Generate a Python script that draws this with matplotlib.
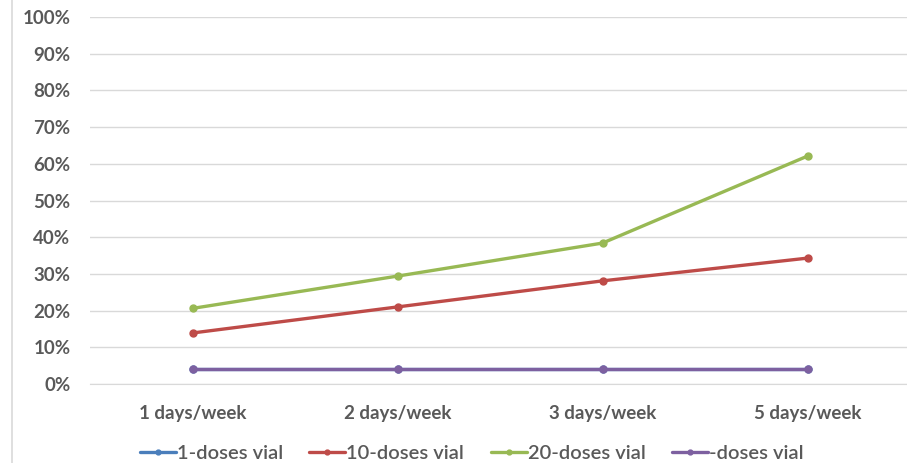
import matplotlib.pyplot as plt
from matplotlib.lines import Line2D
from matplotlib.ticker import PercentFormatter

# Share of respondents by delivery frequency and vial size
frequencies = ["1 days/week", "2 days/week", "3 days/week", "5 days/week"]
vial_1 = [0.041, 0.041, 0.041, 0.041]
vial_10 = [0.139, 0.210, 0.281, 0.343]
vial_20 = [0.206, 0.294, 0.384, 0.621]
vial_other = [0.041, 0.041, 0.041, 0.041]

series_names = ["1-doses vial", "10-doses vial", "20-doses vial", "-doses vial"]
colors = ["#4a7ebb", "#be4b48", "#98b954", "#7d60a0"]

plt.rcParams['font.family'] = ['Lato', 'DejaVu Sans']
label_color = "#595959"

fig = plt.figure(figsize=(9.07, 4.63), dpi=100)
ax = fig.add_axes([90 / 907, 79 / 463, 817 / 907, 367 / 463])

x = range(len(frequencies))
for values, name, color in zip([vial_1, vial_10, vial_20, vial_other], series_names, colors):
    ax.plot(x, values, color=color, linewidth=2.4, marker='o', markersize=5,
            label=name, solid_capstyle='round')

ax.set_xlim(-0.5, -0.5 + 817 / 205)
ax.set_ylim(0, 1)
ax.set_yticks([i / 10 for i in range(11)])
ax.yaxis.set_major_formatter(PercentFormatter(1.0, decimals=0))
ax.set_xticks(list(x))
ax.set_xticklabels(frequencies)

ax.grid(axis='y', color='#d9d9d9', linewidth=1)
ax.set_axisbelow(True)
for side in ['top', 'right', 'left']:
    ax.spines[side].set_visible(False)
ax.spines['bottom'].set_color('#d9d9d9')
ax.tick_params(length=0, labelsize=13.5, labelcolor=label_color)
ax.tick_params(axis='y', pad=14)
ax.tick_params(axis='x', pad=15)
for lbl in ax.get_xticklabels() + ax.get_yticklabels():
    lbl.set_fontweight('bold')

leg = fig.legend(loc='center', bbox_to_anchor=(0.52, 10 / 463), ncol=4, frameon=False,
                 handlelength=1.8, columnspacing=1.3, handletextpad=0.05,
                 prop={'size': 14.5, 'weight': 'semibold'})
for text in leg.get_texts():
    text.set_color(label_color)
for handle in leg.legend_handles:
    handle.set_markersize(3.5)

# Left border of the chart frame
fig.add_artist(Line2D([12 / 907, 12 / 907], [0, 1], color='#d9d9d9', linewidth=1.2,
                      transform=fig.transFigure))

fig.savefig("out.png", dpi=100)
